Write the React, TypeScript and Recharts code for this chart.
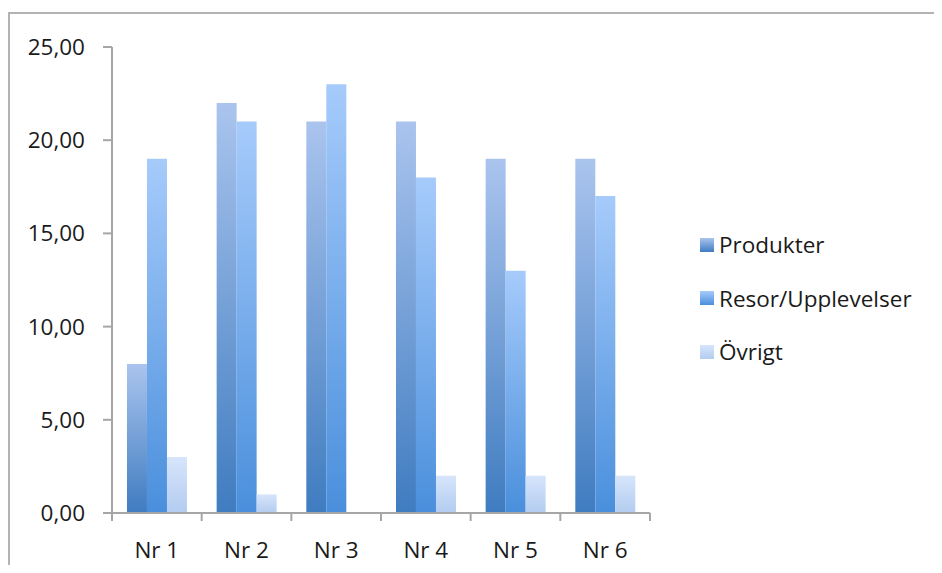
import { Bar, BarChart, XAxis, YAxis } from 'recharts'

const categories = ['Nr 1', 'Nr 2', 'Nr 3', 'Nr 4', 'Nr 5', 'Nr 6']
const produkter = [8, 22, 21, 21, 19, 19]
const resor = [19, 21, 23, 18, 13, 17]
const ovrigt = [3, 1, 0, 2, 2, 2]
const yTicks = [0, 5, 10, 15, 20, 25]

const series = [
  { key: 'produkter', name: 'Produkter', top: '#aac4ee', bottom: '#3f7cc0' },
  { key: 'resor', name: 'Resor/Upplevelser', top: '#a6cbfb', bottom: '#4a8fdc' },
  { key: 'ovrigt', name: 'Övrigt', top: '#d6e5fb', bottom: '#b3ccf0' },
]

const data = categories.map((name, i) => ({
  name,
  produkter: produkter[i],
  resor: resor[i],
  ovrigt: ovrigt[i],
}))

const FONT = '"Open Sans", sans-serif'
const FONT_SIZE = 22.5
const AXIS = '#a6a6a6'
const PLOT_LEFT = 112
const PLOT_RIGHT = 650
const BAND = (PLOT_RIGHT - PLOT_LEFT) / categories.length

// tick y arrives below the axis line by tickSize + tickMargin (8 + 0)
function XTick({ x, y, payload, index }: any) {
  const left = x - BAND / 2
  return (
    <g>
      <line x1={left} y1={y - 8} x2={left} y2={y} stroke={AXIS} strokeWidth={2} />
      {index === categories.length - 1 && (
        <line x1={x + BAND / 2} y1={y - 8} x2={x + BAND / 2} y2={y} stroke={AXIS} strokeWidth={2} />
      )}
      <text x={x} y={y + 37} textAnchor="middle" fill="#1a1a1a" fontSize={FONT_SIZE} fontFamily={FONT}>
        {payload.value}
      </text>
    </g>
  )
}

function LegendBox() {
  return (
    <div
      style={{
        position: 'absolute',
        left: 700,
        top: 218,
        fontFamily: FONT,
        fontSize: FONT_SIZE,
        color: '#1a1a1a',
        whiteSpace: 'nowrap',
      }}
    >
      {series.map((s) => (
        <div key={s.key} style={{ display: 'flex', alignItems: 'center', height: 53.5 }}>
          <span
            style={{
              display: 'inline-block',
              width: 14,
              height: 14,
              marginRight: 5,
              background: `linear-gradient(${s.top}, ${s.bottom})`,
            }}
          />
          {s.name}
        </div>
      ))}
    </div>
  )
}

export default function App() {
  return (
    <div style={{ position: 'relative', margin: -8, width: 942, height: 573, overflow: 'hidden', background: '#fff' }}>
      <div
        style={{
          position: 'absolute',
          left: 8,
          top: 12,
          width: 960,
          height: 600,
          borderTop: '2px solid #b3b3b3',
          borderLeft: '2px solid #b3b3b3',
        }}
      />
      <div style={{ position: 'absolute', left: 0, top: 0 }}>
        <BarChart
          width={942}
          height={573}
          data={data}
          margin={{ top: 47, right: 942 - PLOT_RIGHT, bottom: 0, left: 0 }}
          barCategoryGap="16.7%"
          barGap={0}
        >
          <defs>
            {series.map((s) => (
              <linearGradient key={s.key} id={`g-${s.key}`} x1="0" y1="0" x2="0" y2="1">
                <stop offset="0%" stopColor={s.top} />
                <stop offset="100%" stopColor={s.bottom} />
              </linearGradient>
            ))}
          </defs>
          <XAxis
            dataKey="name"
            height={60}
            axisLine={{ stroke: AXIS, strokeWidth: 2 }}
            tickLine={false}
            tickSize={8}
            tickMargin={0}
            tick={<XTick />}
            interval={0}
          />
          <YAxis
            width={PLOT_LEFT}
            domain={[0, 25]}
            ticks={yTicks}
            tickFormatter={(v: number) => v.toFixed(2).replace('.', ',')}
            axisLine={{ stroke: AXIS, strokeWidth: 2 }}
            tickLine={{ stroke: AXIS, strokeWidth: 2 }}
            tickSize={9}
            tickMargin={18}
            tick={{ fill: '#1a1a1a', fontSize: FONT_SIZE, fontFamily: FONT }}
          />
          {series.map((s) => (
            <Bar
              key={s.key}
              dataKey={s.key}
              name={s.name}
              fill={`url(#g-${s.key})`}
              isAnimationActive={false}
            />
          ))}
        </BarChart>
      </div>
      <LegendBox />
    </div>
  )
}
